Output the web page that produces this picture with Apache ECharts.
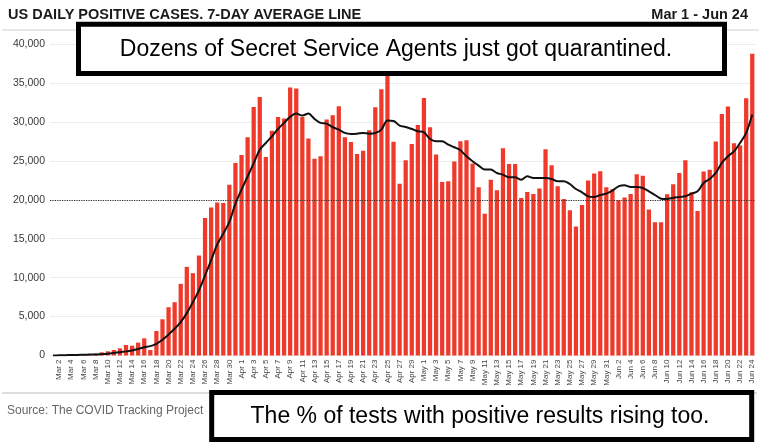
<!DOCTYPE html>
<html>
<head>
<meta charset="utf-8">
<script src="https://cdn.jsdelivr.net/npm/echarts@6/dist/echarts.min.js"></script>
<style>
html,body{margin:0;padding:0;background:#fff;}
#c{width:759px;height:443px;}
</style>
</head>
<body>
<div id="c"></div>
<script>
const categories = [
 "Mar 1","Mar 2","Mar 3","Mar 4","Mar 5","Mar 6","Mar 7","Mar 8","Mar 9","Mar 10",
 "Mar 11","Mar 12","Mar 13","Mar 14","Mar 15","Mar 16","Mar 17","Mar 18","Mar 19","Mar 20",
 "Mar 21","Mar 22","Mar 23","Mar 24","Mar 25","Mar 26","Mar 27","Mar 28","Mar 29","Mar 30","Mar 31",
 "Apr 1","Apr 2","Apr 3","Apr 4","Apr 5","Apr 6","Apr 7","Apr 8","Apr 9","Apr 10",
 "Apr 11","Apr 12","Apr 13","Apr 14","Apr 15","Apr 16","Apr 17","Apr 18","Apr 19","Apr 20",
 "Apr 21","Apr 22","Apr 23","Apr 24","Apr 25","Apr 26","Apr 27","Apr 28","Apr 29","Apr 30",
 "May 1","May 2","May 3","May 4","May 5","May 6","May 7","May 8","May 9","May 10",
 "May 11","May 12","May 13","May 14","May 15","May 16","May 17","May 18","May 19","May 20",
 "May 21","May 22","May 23","May 24","May 25","May 26","May 27","May 28","May 29","May 30","May 31",
 "Jun 1","Jun 2","Jun 3","Jun 4","Jun 5","Jun 6","Jun 7","Jun 8","Jun 9","Jun 10",
 "Jun 11","Jun 12","Jun 13","Jun 14","Jun 15","Jun 16","Jun 17","Jun 18","Jun 19","Jun 20",
 "Jun 21","Jun 22","Jun 23","Jun 24"
];
const dailyCases = [
 10,20,30,50,70,100,150,250,410,540,
 710,920,1350,1260,1650,2200,700,3150,4650,6200,
 6840,9200,11380,10570,12840,17650,19010,19650,19570,21930,
 24720,25750,28020,31920,33200,25490,28870,30630,30420,34400,
 34280,30630,27850,25270,25570,30290,30840,32000,28020,27420,
 25880,26300,28920,31870,34190,36500,27440,22040,25060,27160,
 29600,33080,29310,25800,22280,22370,24900,27510,27640,24640,
 21590,18210,22580,21210,26610,24600,24600,20230,21000,20750,
 21430,26490,24430,21730,20100,18650,16570,19340,22470,23370,
 23670,21610,21360,19940,20280,20750,23280,23070,18740,17110,
 17110,20710,22000,23450,25080,20970,18570,23630,23840,27490,
 31000,31960,27240,26980,33030,38740
];
const sevenDayAvg = [
 0,20,40,60,80,100,120,130,170,214,
 320,428,530,643,850,1072,1200,1500,2015,2700,
 3430,4287,5440,6860,8360,10290,12220,14280,15650,17150,
 19500,21300,22990,24700,26430,27290,28150,29090,29870,30640,
 31070,30810,31070,30380,29870,29780,29310,29010,28580,28450,
 28490,28580,28490,28580,29010,30170,30120,29520,29350,29090,
 28790,28660,27800,27510,27510,27080,26740,26350,25580,24940,
 24380,23870,23870,23440,23230,22880,22880,22580,23010,22800,
 22800,22800,22670,22370,22370,22020,21380,20950,20440,20350,
 20610,20780,21170,21720,21850,21640,21640,21510,21080,20610,
 20140,20100,20270,20350,20440,20780,21080,22160,22670,23440,
 24730,25580,26220,27300,28580,30940
];
const referenceLevel = 20000;
const yTicks = [0,5000,10000,15000,20000,25000,30000,35000,40000];

const FONT = '"Liberation Sans", Arial, Helvetica, sans-serif';
const chart = echarts.init(document.getElementById('c'), null, {renderer:'canvas'});
function fmt(v){ return String(v).replace(/\B(?=(\d{3})+(?!\d))/g, ','); }

chart.setOption({
  animation:false,
  backgroundColor:'#fff',
  grid:{left:50, right:3.7, top:44, bottom:87.5, containLabel:false},
  xAxis:{
    type:'category', data:categories,
    axisLine:{show:false}, axisTick:{show:false},
    axisLabel:{
      rotate:90, fontSize:8, color:'#444', fontFamily:FONT, margin:4,
      interval:function(i){ return i % 2 === 1; }
    }
  },
  yAxis:{
    type:'value', min:yTicks[0], max:yTicks[yTicks.length-1], interval:5000,
    axisLine:{show:false}, axisTick:{show:false},
    splitLine:{lineStyle:{color:'#ececec', width:1}},
    axisLabel:{fontSize:10.5, color:'#3a3a3a', fontFamily:FONT, margin:5, formatter:fmt}
  },
  series:[
    {
      type:'bar', data:dailyCases, barCategoryGap:'30%',
      itemStyle:{color:'#ef3a2b'},
      markLine:{
        silent:true, symbol:'none', label:{show:false},
        lineStyle:{color:'#333', type:'dotted', width:1.2},
        data:[{yAxis:referenceLevel}]
      }
    },
    {
      type:'line', data:sevenDayAvg, smooth:0.3, showSymbol:false, symbol:'none',
      lineStyle:{color:'#111', width:2}, z:5
    }
  ],
  graphic:[
    {type:'text', left:8, top:7.5, style:{text:'US DAILY POSITIVE CASES. 7-DAY AVERAGE LINE', font:'bold 14.5px '+FONT, fill:'#1a1a1a'}},
    {type:'text', right:11, top:7, style:{text:'Mar 1 - Jun 24', font:'bold 14.5px '+FONT, fill:'#1a1a1a'}},
    {type:'line', shape:{x1:2, y1:30, x2:759, y2:30}, style:{stroke:'#d0d0d0', lineWidth:1}},
    {type:'line', shape:{x1:2, y1:393, x2:757, y2:393}, style:{stroke:'#dcdcdc', lineWidth:2}},
    {type:'text', left:7, top:405, style:{text:'Source: The COVID Tracking Project', font:'12px '+FONT, fill:'#666'}},
    {type:'rect', z:100, shape:{x:78.5, y:24.2, width:646, height:49.3}, style:{fill:'#fff', stroke:'#000', lineWidth:5}},
    {type:'text', z:101, x:396, y:50, style:{text:'Dozens of Secret Service Agents just got quarantined.', font:'23px '+FONT, fill:'#000', textAlign:'center', textVerticalAlign:'middle'}},
    {type:'rect', z:100, shape:{x:211.7, y:392.5, width:540, height:47}, style:{fill:'#fff', stroke:'#000', lineWidth:5}},
    {type:'text', z:101, x:480, y:417, style:{text:'The % of tests with positive results rising too.', font:'23px '+FONT, fill:'#000', textAlign:'center', textVerticalAlign:'middle'}}
  ]
});
</script>
</body>
</html>
